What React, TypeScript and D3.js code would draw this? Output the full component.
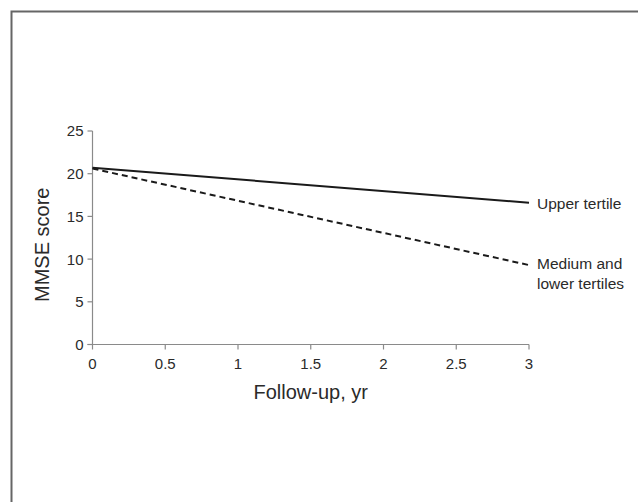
import React from "react";
import * as d3 from "d3";

const years = [0, 3];
const upperTertile = [20.7, 16.6];
const mediumLowerTertiles = [20.6, 9.3];
const xTicks = [0, 0.5, 1, 1.5, 2, 2.5, 3];
const yTicks = [0, 5, 10, 15, 20, 25];
const seriesLabels = ["Upper tertile", "Medium and", "lower tertiles"];

export default function App() {
  const W = 638, H = 502;
  const x = d3.scaleLinear().domain([0, 3]).range([92.5, 529]);
  const y = d3.scaleLinear().domain([0, 25]).range([344.5, 131]);
  const line = d3.line<number>().x((_, i) => x(years[i])).y((d) => y(d));
  const font = "Liberation Sans, Arial, Helvetica, sans-serif";
  const axisColor = "#8a8a8a";
  const textColor = "#2a2a2a";
  return (
    <svg width={W} height={H} style={{ position: "absolute", left: 0, top: 0 }} fontFamily={font}>
      <rect x={0} y={0} width={W} height={H} fill="#fff" />
      <path d={`M11.5,${H} V11.5 H${W}`} fill="none" stroke="#666" strokeWidth={2} />
      {/* axes */}
      <line x1={x(0)} x2={x(0)} y1={y(25)} y2={y(0)} stroke={axisColor} strokeWidth={1.2} />
      <line x1={x(0) - 5} x2={x(3)} y1={y(0)} y2={y(0)} stroke={axisColor} strokeWidth={1.2} />
      {yTicks.map((t) => (
        <g key={"y" + t}>
          <line x1={x(0) - 5} x2={x(0)} y1={y(t)} y2={y(t)} stroke={axisColor} strokeWidth={1.2} />
          <text x={x(0) - 9} y={y(t)} dy="0.36em" textAnchor="end" fontSize={15} fill={textColor}>{t}</text>
        </g>
      ))}
      {xTicks.map((t) => (
        <g key={"x" + t}>
          <line x1={x(t)} x2={x(t)} y1={y(0)} y2={y(0) + 5} stroke={axisColor} strokeWidth={1.2} />
          <text x={x(t)} y={y(0) + 24} textAnchor="middle" fontSize={15} fill={textColor}>{t}</text>
        </g>
      ))}
      <text x={(x(0) + x(3)) / 2} y={399} textAnchor="middle" fontSize={20} fill={textColor}>Follow-up, yr</text>
      <text transform={`translate(49,${(y(0) + y(25)) / 2 + 7}) rotate(-90)`} textAnchor="middle" fontSize={20} fill={textColor}>MMSE score</text>
      {/* series */}
      <path d={line(upperTertile) || ""} fill="none" stroke="#1a1a1a" strokeWidth={2} />
      <path d={line(mediumLowerTertiles) || ""} fill="none" stroke="#1a1a1a" strokeWidth={2} strokeDasharray="6,4" />
      <text x={537} y={209} fontSize={15.5} fill={textColor}>{seriesLabels[0]}</text>
      <text x={537} y={268.5} fontSize={15.5} fill={textColor}>{seriesLabels[1]}</text>
      <text x={537} y={289} fontSize={15.5} fill={textColor}>{seriesLabels[2]}</text>
    </svg>
  );
}
